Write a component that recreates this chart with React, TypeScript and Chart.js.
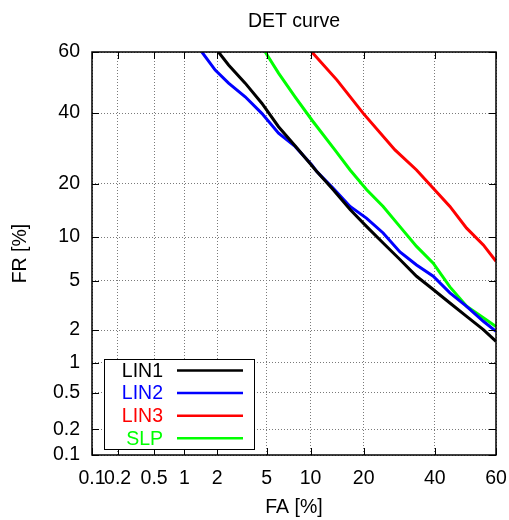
import React, { useEffect, useRef } from "react";
import { Chart, registerables } from "chart.js";

Chart.register(...registerables);

// ---- data (percentages) ----
const TICK_VALUES = [0.1, 0.2, 0.5, 1, 2, 5, 10, 20, 40, 60];
const TICK_LABELS = ["0.1", "0.2", "0.5", "1", "2", "5", "10", "20", "40", "60"];
const AXIS_MIN = 0.1;
const AXIS_MAX = 60;

const CHART_TITLE = "DET curve";
const X_TITLE = "FA [%]";
const Y_TITLE = "FR [%]";

const SERIES_NAMES = ["LIN1", "LIN2", "LIN3", "SLP"];
const SERIES_COLORS = ["#000000", "#0000ff", "#ff0000", "#00ff00"];

const LIN1_FA = [2.05, 2.5, 3.42, 4.6, 6.1, 7.93, 10.94, 13.7, 17.0, 20.7, 24.8, 29.4, 34.3, 39.5, 44.9, 50.4, 55.9, 60];
const LIN1_FR = [60, 55.8, 49.8, 43.2, 35.7, 30.0, 23.0, 18.7, 14.6, 11.6, 9.15, 7.1, 5.4, 4.3, 3.37, 2.62, 2.02, 1.59];

const LIN2_FA = [1.46, 1.92, 2.5, 3.42, 4.6, 6.1, 7.93, 10.19, 10.94, 13.7, 17.0, 20.7, 24.8, 29.4, 34.3, 39.5, 44.9, 50.4, 55.9, 60];
const LIN2_FR = [60, 54.1, 49.8, 45.3, 39.9, 33.7, 29.8, 24.7, 23.0, 19.0, 15.2, 13.0, 10.6, 8.0, 6.5, 5.4, 4.05, 3.17, 2.38, 1.95];

const LIN3_FA = [10.19, 14.4, 19.9, 28.0, 34.3, 39.5, 44.9, 50.4, 55.9, 60];
const LIN3_FR = [60, 50.8, 39.9, 28.8, 23.4, 19.0, 15.2, 11.35, 8.9, 6.9];

const SLP_FA = [4.88, 6.1, 7.93, 10.19, 14.0, 17.0, 20.7, 24.8, 29.4, 34.3, 39.5, 44.9, 50.4, 55.9, 60];
const SLP_FR = [60, 53.1, 45.3, 37.8, 28.8, 23.4, 18.7, 15.2, 11.6, 8.7, 6.7, 4.5, 3.17, 2.55, 2.15];

const SERIES_FA = [LIN1_FA, LIN2_FA, LIN3_FA, SLP_FA];
const SERIES_FR = [LIN1_FR, LIN2_FR, LIN3_FR, SLP_FR];

// ---- normal deviate (probit) transform for DET axes ----
function probit(p: number): number {
  const a = [-3.969683028665376e1, 2.209460984245205e2, -2.759285104469687e2, 1.38357751867269e2, -3.066479806614716e1, 2.506628277459239];
  const b = [-5.447609879822406e1, 1.615858368580409e2, -1.556989798598866e2, 6.680131188771972e1, -1.328068155288572e1];
  const c = [-7.784894002430293e-3, -3.223964580411365e-1, -2.400758277161838, -2.549732539343734, 4.374664141464968, 2.938163982698783];
  const d = [7.784695709041462e-3, 3.224671290700398e-1, 2.445134137142996, 3.754408661907416];
  const plow = 0.02425;
  const phigh = 1 - plow;
  if (p < plow) {
    const q = Math.sqrt(-2 * Math.log(p));
    return (((((c[0] * q + c[1]) * q + c[2]) * q + c[3]) * q + c[4]) * q + c[5]) / ((((d[0] * q + d[1]) * q + d[2]) * q + d[3]) * q + 1);
  } else if (p <= phigh) {
    const q = p - 0.5;
    const r = q * q;
    return ((((((a[0] * r + a[1]) * r + a[2]) * r + a[3]) * r + a[4]) * r + a[5]) * q) / (((((b[0] * r + b[1]) * r + b[2]) * r + b[3]) * r + b[4]) * r + 1);
  }
  const q = Math.sqrt(-2 * Math.log(1 - p));
  return -(((((c[0] * q + c[1]) * q + c[2]) * q + c[3]) * q + c[4]) * q + c[5]) / ((((d[0] * q + d[1]) * q + d[2]) * q + d[3]) * q + 1);
}
const P = (v: number) => probit(v / 100);

const FONT_FAMILY = "'Liberation Sans', Arial, Helvetica, sans-serif";
const FONT_SIZE = 19.5;

const titlePlugin = {
  id: "detTitle",
  afterDraw(chart: any) {
    const { ctx, chartArea } = chart;
    ctx.save();
    ctx.fillStyle = "#000";
    ctx.font = `${FONT_SIZE}px ${FONT_FAMILY}`;
    ctx.textAlign = "center";
    ctx.textBaseline = "middle";
    ctx.fillText(CHART_TITLE, (chartArea.left + chartArea.right) / 2, 21.5);
    ctx.restore();
  },
};

const framePlugin = {
  id: "detFrame",
  afterDatasetsDraw(chart: any) {
    const { ctx, chartArea } = chart;
    const { left, right, top, bottom } = chartArea;
    const xs = chart.scales.x;
    const ys = chart.scales.y;
    const tl = 7;
    ctx.save();
    ctx.strokeStyle = "#000";
    ctx.lineWidth = 1;
    ctx.beginPath();
    TICK_VALUES.forEach((v) => {
      const px = Math.round(xs.getPixelForValue(P(v))) + 0.5;
      ctx.moveTo(px, bottom);
      ctx.lineTo(px, bottom - tl);
      ctx.moveTo(px, top);
      ctx.lineTo(px, top + tl);
      const py = Math.round(ys.getPixelForValue(P(v))) + 0.5;
      ctx.moveTo(left, py);
      ctx.lineTo(left + tl, py);
      ctx.moveTo(right, py);
      ctx.lineTo(right - tl, py);
    });
    ctx.stroke();
    ctx.lineWidth = 1.5;
    ctx.strokeRect(left, top, right - left, bottom - top);
    ctx.restore();
  },
};

const legendPlugin = {
  id: "detLegend",
  afterDraw(chart: any) {
    const { ctx, chartArea } = chart;
    const x0 = chartArea.left + 12;
    const y1 = chartArea.bottom - 6;
    const w = 150;
    const h = 90;
    const y0 = y1 - h;
    ctx.save();
    ctx.fillStyle = "#fff";
    ctx.fillRect(x0, y0, w, h);
    ctx.strokeStyle = "#000";
    ctx.lineWidth = 1;
    ctx.strokeRect(x0 + 0.5, y0 + 0.5, w, h);
    ctx.font = `${FONT_SIZE}px ${FONT_FAMILY}`;
    ctx.textAlign = "right";
    ctx.textBaseline = "middle";
    chart.data.datasets.forEach((ds: any, i: number) => {
      const cy = y0 + 11.5 + i * 22.6;
      ctx.fillStyle = ds.borderColor;
      ctx.fillText(ds.label, x0 + 59, cy + 1);
      ctx.strokeStyle = ds.borderColor;
      ctx.lineWidth = 2.5;
      ctx.beginPath();
      ctx.moveTo(x0 + 73, cy);
      ctx.lineTo(x0 + 139, cy);
      ctx.stroke();
    });
    ctx.restore();
  },
};

export default function App() {
  const ref = useRef<HTMLCanvasElement | null>(null);

  useEffect(() => {
    document.body.style.margin = "0";
    const canvas = ref.current;
    if (!canvas) return;
    const font = { family: FONT_FAMILY, size: FONT_SIZE };
    const datasets = SERIES_NAMES.map((name, i) => ({
      label: name,
      data: SERIES_FA[i].map((fa, j) => ({ x: P(fa), y: P(SERIES_FR[i][j]) })),
      borderColor: SERIES_COLORS[i],
      backgroundColor: SERIES_COLORS[i],
      borderWidth: 3,
      pointRadius: 0,
      tension: 0,
      fill: false,
    }));
    const axisCommon = (title: string, isX: boolean) => ({
      type: "linear" as const,
      min: P(AXIS_MIN),
      max: P(AXIS_MAX),
      afterBuildTicks: (s: any) => {
        s.ticks = TICK_VALUES.map((v) => ({ value: P(v) }));
      },
      afterFit: (s: any) => {
        if (isX) s.height = 65;
        else s.width = 92;
        s.paddingLeft = 0;
        s.paddingRight = 0;
        s.paddingTop = 0;
        s.paddingBottom = 0;
      },
      ticks: {
        autoSkip: false,
        maxRotation: 0,
        minRotation: 0,
        padding: 12,
        color: "#000",
        font,
        callback: (_v: any, i: number) => TICK_LABELS[i],
      },
      grid: { color: "#7a7a7a", lineWidth: 1, drawTicks: false },
      border: { display: false, dash: [1, 2] },
      title: {
        display: true,
        text: title,
        color: "#000",
        font,
        padding: isX ? { top: 0, bottom: 1 } : { top: 9, bottom: 0 },
      },
    });
    const chart = new Chart(canvas, {
      type: "line",
      data: { datasets },
      options: {
        responsive: false,
        animation: false,
        devicePixelRatio: 1,
        layout: { padding: { left: 0, right: 13, top: 52, bottom: 0 } },
        plugins: {
          legend: { display: false },
          tooltip: { enabled: false },
          title: { display: false },
        },
        scales: {
          x: axisCommon(X_TITLE, true),
          y: axisCommon(Y_TITLE, false),
        },
      },
      plugins: [framePlugin, legendPlugin, titlePlugin],
    } as any);
    return () => chart.destroy();
  }, []);

  return (
    <div style={{ width: 509, height: 520 }}>
      <canvas ref={ref} width={509} height={520} style={{ display: "block" }} />
    </div>
  );
}
